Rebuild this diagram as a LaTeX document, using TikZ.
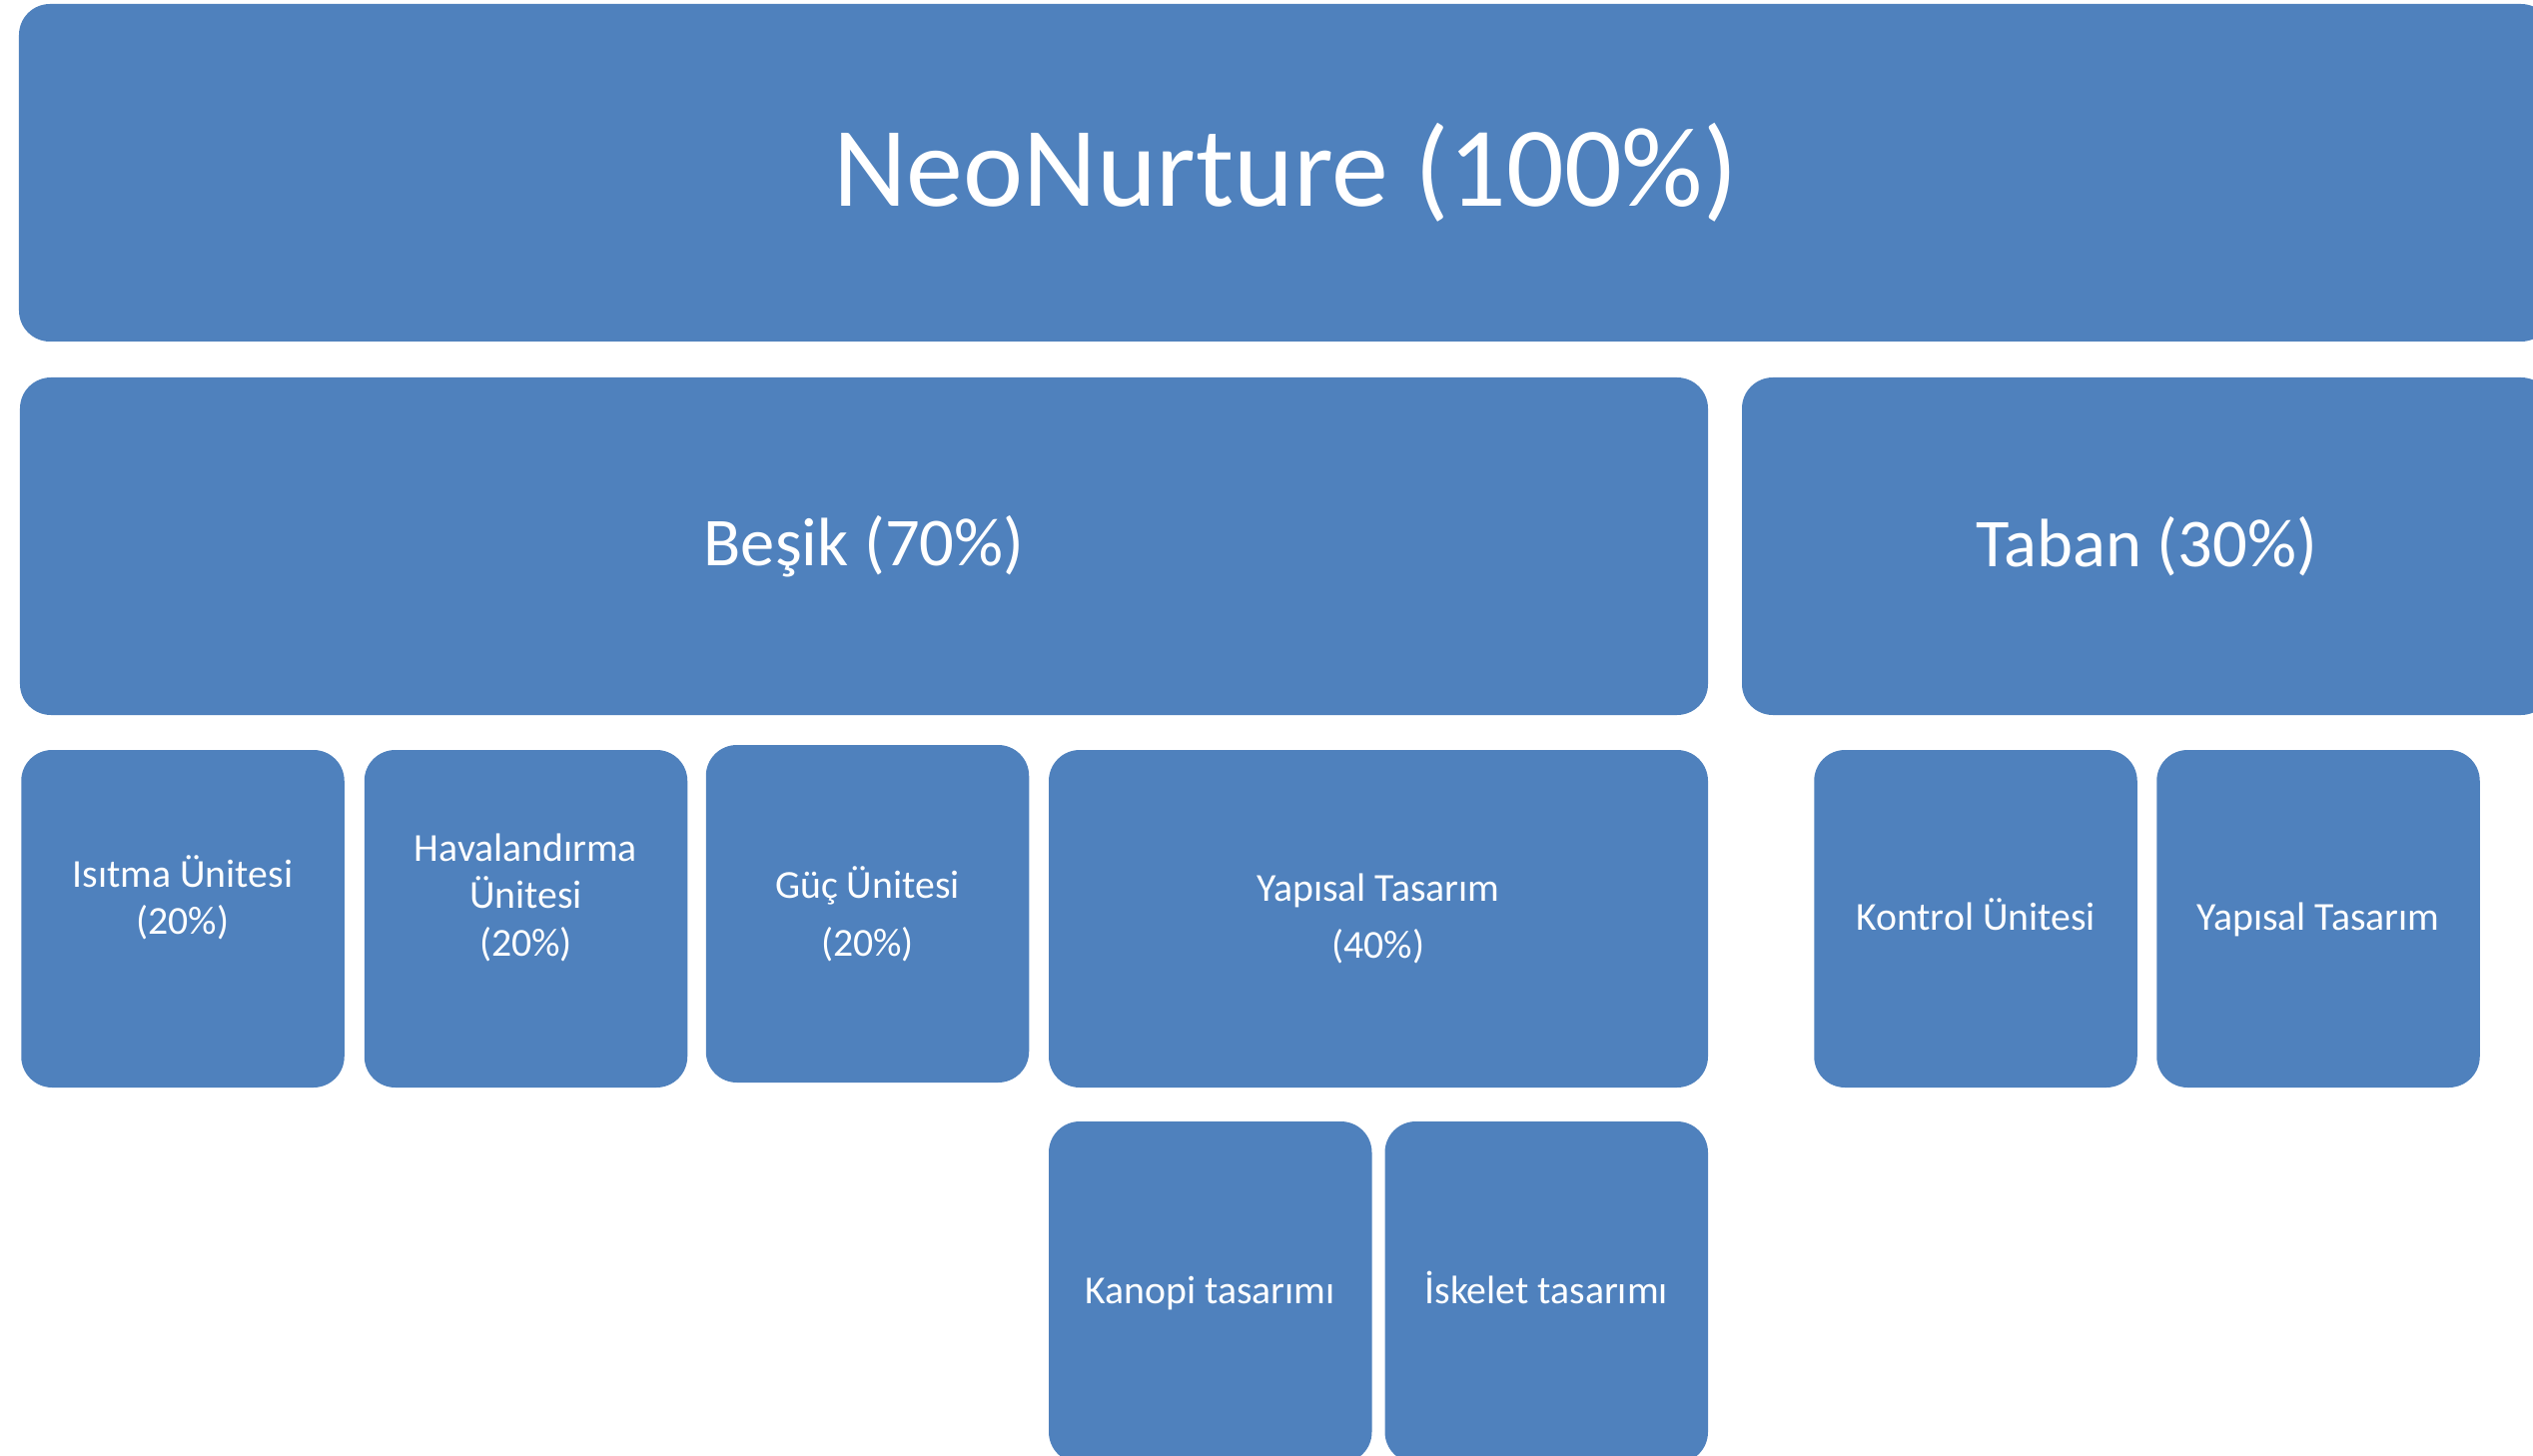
\documentclass[tikz,border=0pt]{standalone}
\usepackage{fontspec}
\setmainfont{Carlito}
\usepackage{xcolor}
\usetikzlibrary{positioning}
\definecolor{nnblue}{RGB}{79,129,189}

\begin{document}
\begin{tikzpicture}[
  box/.style={rectangle, rounded corners=0.31cm, fill=nnblue, text=white,
              inner sep=0pt, outer sep=0pt, align=center},
  root/.style={box, minimum width=25.36cm, minimum height=3.38cm,
               font=\fontsize{32.4}{38}\selectfont},
  grp/.style={box, minimum height=3.38cm, font=\fontsize{19.5}{23}\selectfont},
  leaf/.style={box, minimum width=3.235cm, minimum height=3.38cm,
               font=\fontsize{11.3}{13.6}\selectfont},
  oneline/.style={text height=0.75em, text depth=0.106em}
]
%% page frame, 1px of the image = 0.01cm, origin top left
\useasboundingbox (0,0) rectangle (25.36,-14.58);
\clip (0,0) rectangle (25.36,-14.58);
%% level 1
\node[root] (neo) at (12.87,-1.73) {NeoNurture (100\%)};
%% level 2
\node[grp, minimum width=16.90cm] (besik) at (8.65,-5.47) {Beşik (70\%)};
\node[grp, minimum width=8.11cm]  (taban) at (21.495,-5.47) {Taban (30\%)};
%% level 3 under Beşik
\node[leaf] (isitma) at (1.83,-9.20) {Isıtma Ünitesi\\(20\%)\\\mbox{}};
\node[leaf, right=0.20cm of isitma] (hava) {Havalandırma\\Ünitesi\\(20\%)\\\mbox{}};
\node[leaf] (guc) at (8.685,-9.15) {Güç Ünitesi\\[0.10cm](20\%)};
\node[leaf, minimum width=6.60cm] (yapisal) at (13.80,-9.20)
    {Yapısal Tasarım\\[0.10cm](40\%)};
%% level 3 under Taban
\node[leaf, oneline] (kontrol) at (19.78,-9.20) {Kontrol Ünitesi};
\node[leaf, oneline, right=0.195cm of kontrol] (tyapisal) {Yapısal Tasarım};
%% level 4 under Yapısal Tasarım
\node[leaf, oneline, minimum height=3.42cm, anchor=north west] (kanopi)
    at ([yshift=-0.34cm]yapisal.south west) {Kanopi tasarımı};
\node[leaf, oneline, minimum height=3.42cm, right=0.13cm of kanopi] (iskelet)
    {İskelet tasarımı};
\end{tikzpicture}
\end{document}
